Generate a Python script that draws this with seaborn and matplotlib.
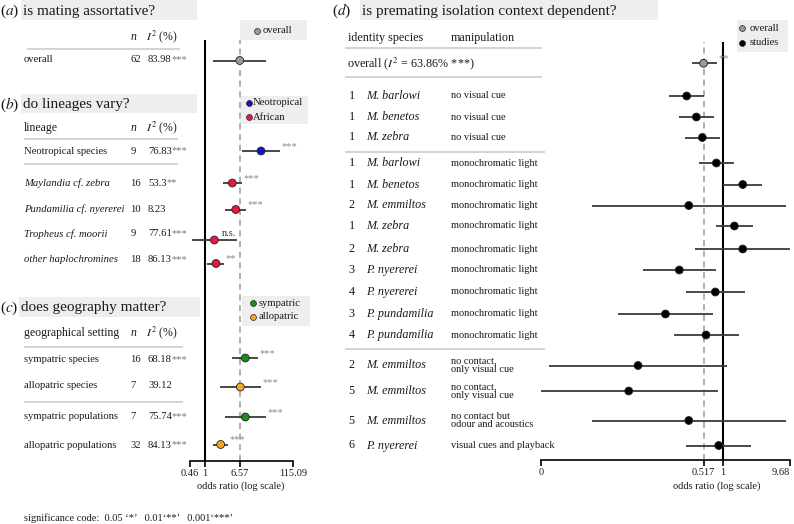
import numpy as np
import pandas as pd
import matplotlib
matplotlib.use("Agg")
import matplotlib.pyplot as plt
import seaborn as sns
from matplotlib.patches import Rectangle
from matplotlib.ticker import NullLocator

# --- panels a-c: pooled odds ratios (95% CI) ---
ac_labels = ["overall", "Neotropical species", "Maylandia cf. zebra", "Pundamilia cf. nyererei",
             "Tropheus cf. moorii", "other haplochromines", "sympatric species", "allopatric species",
             "sympatric populations", "allopatric populations"]
ac_n = [62, 9, 16, 10, 9, 18, 16, 7, 7, 32]
ac_i2 = ["83.98", "76.83", "53.3", "8.23", "77.61", "86.13", "68.18", "39.12", "75.74", "84.13"]
ac_i2_sig = ["***", "***", "**", "", "***", "***", "***", "", "***", "***"]
ac_or = [6.57, 20.5, 4.41, 5.30, 1.69, 1.85, 8.85, 6.77, 8.85, 2.37]
ac_lo = [1.60, 7.5, 2.64, 2.99, 0.50, 1.16, 4.41, 2.32, 2.94, 1.60]
ac_hi = [26.8, 56.5, 7.30, 9.33, 5.77, 2.88, 17.7, 20.1, 27.2, 3.57]
ac_sig = ["", "***", "***", "***", "n.s.", "**", "***", "***", "***", "***"]
ac_group = ["overall", "Neotropical", "African", "African", "African", "African",
            "sympatric", "allopatric", "sympatric", "allopatric"]
ac_italic = [False, False, True, True, True, True, False, False, False, False]
ac_ticks = [0.46, 1, 6.57, 115.09]

# --- panel d: individual studies ---
d_study = [1, 1, 1, 1, 1, 2, 1, 2, 3, 4, 3, 4, 2, 5, 5, 6]
d_species = ["M. barlowi", "M. benetos", "M. zebra", "M. barlowi", "M. benetos", "M. emmiltos",
             "M. zebra", "M. zebra", "P. nyererei", "P. nyererei", "P. pundamilia", "P. pundamilia",
             "M. emmiltos", "M. emmiltos", "M. emmiltos", "P. nyererei"]
d_manip = ["no visual cue"] * 3 + ["monochromatic light"] * 9 + [
    "no contact,\nonly visual cue", "no contact,\nonly visual cue",
    "no contact but\nodour and acoustics", "visual cues and playback"]
d_or = [0.292, 0.405, 0.496, 0.797, 1.95, 0.313, 1.47, 1.95, 0.227, 0.770, 0.142, 0.562,
        0.0561, 0.0409, 0.313, 0.864]
d_lo = [0.162, 0.227, 0.276, 0.443, 1.01, 0.0117, 0.797, 0.387, 0.0671, 0.288, 0.0288, 0.188,
        0.00278, 0.00207, 0.0117, 0.288]
d_hi = [0.525, 0.737, 0.903, 1.47, 3.79, 8.46, 2.74, 9.6, 0.789, 2.11, 0.705, 1.72,
        1.16, 0.844, 8.37, 2.56]
d_overall = (0.517, 0.346, 0.808)
d_overall_i2 = "63.86"
d_ticks = [0.00207, 0.517, 1, 9.68]
d_ticklabels = ["0", "0.517", "1", "9.68"]

palette = {"overall": "#9a9a9a", "Neotropical": "#1414c8", "African": "#e8173f",
           "sympatric": "#1c8c1c", "allopatric": "#f5a623", "studies": "#000000"}

# layout (pixel rows)
ac_y_pt = [60.5, 151, 183, 209.5, 240, 263.5, 358, 387, 417, 444.5]
ac_y_txt = [60, 151, 183, 209, 234, 260, 360, 385, 416.5, 445]
d_y = [96, 117, 137.5, 163, 184.5, 205.5, 226, 249, 270, 292, 314, 335, 365.5, 391, 420.5, 445.5]

sns.set_style("white")
plt.rcParams["font.family"] = ["Liberation Serif", "DejaVu Serif"]
plt.rcParams["mathtext.fontset"] = "stix"

W, H = 794, 524
fig = plt.figure(figsize=(W / 100, H / 100), dpi=100)
bg = fig.add_axes([0, 0, 1, 1])
bg.set_xlim(0, W)
bg.set_ylim(H, 0)
bg.axis("off")
TXT = "#1a1a1a"


def px_axes(x0, x1, y0, y1):
    ax = fig.add_axes([x0 / W, 1 - y1 / H, (x1 - x0) / W, (y1 - y0) / H])
    ax.set_facecolor("none")
    ax.set_ylim(y1, y0)
    return ax


def forest(ax, df, xlim, ticks, labels, ref):
    ax.set_xscale("log")
    ax.axvline(1, color="black", lw=1.5, zorder=1)
    ax.axvline(ref, color="#9a9a9a", lw=1.1, ls=(0, (4, 3)), zorder=1)
    ax.hlines(df["y"], df["lo"], df["hi"], color="#3a3a3a", lw=1.3, zorder=2)
    sns.scatterplot(data=df, x="or", y="y", hue="group", palette=palette, s=32,
                    edgecolor="#222222", linewidth=0.6, legend=False, ax=ax, zorder=3)
    for _, r in df.iterrows():
        if r["sig"] == "n.s.":
            ax.annotate("n.s.", (r["hi"], r["y"]), xytext=(-1, 3), textcoords="offset points",
                        color="#333333", fontsize=7.5, ha="right", va="baseline")
        elif r["sig"]:
            ax.annotate(r["sig"], (r["hi"], r["y"]), xytext=(1, 1.5), textcoords="offset points",
                        color="#8a8a8a", fontsize=7.5, ha="left", va="baseline")
    ax.set_xlim(*xlim)
    ax.set_xticks(ticks)
    ax.set_xticklabels(labels)
    ax.xaxis.set_minor_locator(NullLocator())
    ax.set_yticks([])
    ax.set_xlabel("")
    ax.set_ylabel("")
    sns.despine(ax=ax, left=True)
    ax.spines["bottom"].set_linewidth(1.2)
    ax.spines["bottom"].set_color("black")
    ax.tick_params(axis="x", bottom=True, direction="out", length=4, width=1.2,
                   labelsize=7.5, pad=2, color="black", labelcolor=TXT)


# ---- left forest plot ----
df_ac = pd.DataFrame({"or": ac_or, "lo": ac_lo, "hi": ac_hi, "group": ac_group,
                      "sig": ac_sig, "y": ac_y_pt})
axl = px_axes(190, 293.3, 40, 461)
forest(axl, df_ac, (0.46, 115.09), ac_ticks, [str(t) for t in ac_ticks], 6.57)
bg.text(241, 486, "odds ratio (log scale)", fontsize=7.5, ha="center", va="center", color=TXT)

# ---- right forest plot ----
df_d = pd.DataFrame({"or": [d_overall[0]] + d_or, "lo": [d_overall[1]] + d_lo,
                     "hi": [d_overall[2]] + d_hi, "group": ["overall"] + ["studies"] * len(d_or),
                     "sig": ["**"] + [""] * len(d_or), "y": [63.3] + d_y})
axr = px_axes(540.7, 790, 42, 460)
forest(axr, df_d, (d_ticks[0], d_ticks[-1]), d_ticks, d_ticklabels, d_overall[0])
axr.get_xticklabels()[-1].set_horizontalalignment("right")
axr.get_xticklabels()[-1].set_x(d_ticks[-1])
bg.text(717, 486, "odds ratio (log scale)", fontsize=7.5, ha="center", va="center", color=TXT)


# ---- titles ----
def title(letter, text, x0, x1, y0, y1, lx):
    bg.add_patch(Rectangle((x0, y0), x1 - x0, y1 - y0, fc="#eeeeee", ec="none"))
    bg.text(x0 + 2, (y0 + y1) / 2 + 1, text, fontsize=11, va="center", ha="left", color=TXT)
    bg.text(lx, (y0 + y1) / 2 + 1, "($%s$)" % letter, fontsize=11, va="center", ha="left", color=TXT)


title("a", "is mating assortative?", 20.7, 196.7, 0, 20, 0)
title("b", "do lineages vary?", 20.7, 196.7, 94, 113.3, 0)
title("c", "does geography matter?", 19.3, 200, 296.7, 317.3, 0)
title("d", "is premating isolation context dependent?", 360, 658, 0, 20, 332)


def rule(x0, x1, y):
    bg.plot([x0, x1], [y, y], color="#cccccc", lw=1.2, solid_capstyle="butt")


# ---- left tables ----
for head, yh in [("", 37), ("lineage", 128), ("geographical setting", 333)]:
    if head:
        bg.text(24, yh, head, fontsize=8.5, va="center", color=TXT)
    bg.text(131, yh, "n", fontsize=8.5, style="italic", va="center", color=TXT)
    bg.text(146, yh, "$I^2$ (%)", fontsize=8.5, va="center", color=TXT)

rule(27, 180, 48.7)
rule(24, 178, 139)
rule(24, 178, 164.3)
rule(24, 183, 346.7)
rule(24, 183, 402.3)

for lab, n, i2, s, it, y in zip(ac_labels, ac_n, ac_i2, ac_i2_sig, ac_italic, ac_y_txt):
    bg.text(24, y, lab, fontsize=7.7, style="italic" if it else "normal", va="center", color=TXT)
    bg.text(130.5, y, str(n), fontsize=7.7, va="center", color=TXT)
    t = bg.text(148, y, i2, fontsize=7.7, va="center", color=TXT)
    if s:
        bg.annotate(s, xy=(1, 0), xycoords=t, fontsize=7.5, va="bottom", ha="left", color="#777777")

# ---- right table ----
bg.text(348, 38.3, "identity species", fontsize=8.7, va="center", color=TXT)
bg.text(450.7, 38.3, "manipulation", fontsize=8.7, va="center", color=TXT)
rule(345, 542, 48.3)
bg.text(347.3, 63.3, "overall ($I^2$ = %s%% ***)" % d_overall_i2, fontsize=8.7, va="center", color=TXT)
rule(345, 542, 76.7)
rule(345, 545, 151.7)
rule(345, 545, 349.3)
for num, sp, mp, y in zip(d_study, d_species, d_manip, d_y):
    bg.text(348.5, y, str(num), fontsize=8.7, va="center", color=TXT)
    bg.text(366, y, sp, fontsize=8.7, style="italic", va="center", color=TXT)
    bg.text(450.7, y, mp, fontsize=7.5, va="center", color=TXT, linespacing=0.92)


# ---- legends ----
def legend(x0, x1, y0, y1, mx, tx, items):
    bg.add_patch(Rectangle((x0, y0), x1 - x0, y1 - y0, fc="#eeeeee", ec="none"))
    for lab, y in items:
        bg.scatter([mx], [y], s=18, color=palette[lab if lab in palette else "overall"],
                   edgecolor="#222222", linewidth=0.5, zorder=3)
        bg.text(tx, y, lab, fontsize=7.7, va="center", color=TXT)


legend(240, 307, 20, 40, 257, 263, [("overall", 30.5)])
legend(240, 308.3, 96, 124, 248.7, 253, [("Neotropical", 102.7), ("African", 117.3)])
legend(241.7, 310, 296, 325.7, 252.7, 259, [("sympatric", 303.3), ("allopatric", 316.7)])
legend(736.7, 787.7, 20, 51.7, 742.3, 749.5, [("overall", 28.3), ("studies", 42.7)])

bg.text(24, 518, "significance code:  0.05 \u2018*\u2019   0.01\u2018**\u2019   0.001\u2018***\u2019",
        fontsize=7.5, va="center", color=TXT)

fig.savefig("out.png", dpi=100)
